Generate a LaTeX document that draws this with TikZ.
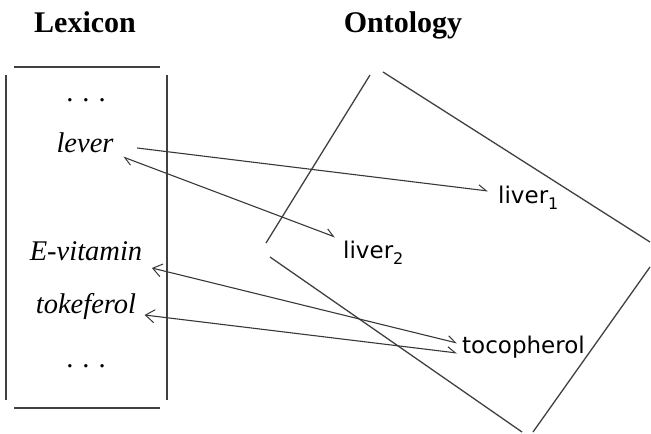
\documentclass[tikz,border=0pt]{standalone}
\usepackage{fontspec}
\usetikzlibrary{arrows.meta}
\newfontfamily\tnrfont{Liberation Serif}
\newfontfamily\ontfont{DejaVu Sans}
\newcommand{\mysub}[1]{\raisebox{-0.28em}{\fontsize{16}{16}\selectfont #1}}
\newcommand{\mydots}{.\hspace{9pt}.\hspace{9pt}.}
\begin{document}
\begin{tikzpicture}[x=1pt,y=-1pt,
  title/.style={inner sep=0pt,anchor=base,font=\tnrfont\bfseries\fontsize{30}{30}\selectfont},
  lex/.style={inner sep=0pt,anchor=base,font=\tnrfont\itshape\fontsize{28.5}{28.5}\selectfont},
  dotsnode/.style={inner sep=0pt,anchor=base,font=\tnrfont\fontsize{28.5}{28.5}\selectfont},
  ont/.style={inner sep=0pt,anchor=base west,font=\ontfont\fontsize{23}{23}\selectfont},
  frame/.style={draw=black!75,line width=1.3pt},
  link/.style={draw=black!78,line width=1.1pt},
  barb/.tip={Straight Barb[harpoon,length=8pt,width=10pt,line width=1pt]},
  vee/.tip={Straight Barb[length=9pt,width=13pt,line width=1pt]}]
\useasboundingbox (0,0) rectangle (651,434);
% titles
\node[title] (lexT) at (85,32) {Lexicon};
\node[title] (ontT) at (403,32) {Ontology};
% lexicon frame
\draw[frame] (14,67) -- (160,67);
\draw[frame] (6,75) -- (6,400);
\draw[frame] (167,75) -- (167,400);
\draw[frame] (14,408) -- (160,408);
% ontology frame
\draw[frame] (370,75) -- (266,243);
\draw[frame] (383,72) -- (650,242);
\draw[frame] (650,267) -- (533,432);
\draw[frame] (270,257) -- (522,432);
% lexicon entries
\node[dotsnode] (d1) at (86,101) {\mydots};
\node[lex] (lever) at (85,152) {lever};
\node[lex] (evit) at (86,260) {E-vitamin};
\node[lex] (toke) at (86,313) {tokeferol};
\node[dotsnode] (d2) at (86,367) {\mydots};
% ontology entries
\node[ont] (liv1) at (498,203) {liver\mysub{1}};
\node[ont] (liv2) at (343,258) {liver\mysub{2}};
\node[ont] (toco) at (462,353) {tocopherol};
% connectors
\draw[link,-barb] ([shift={(23.5,-4)}]lever.base east) -- ([shift={(-10,-12)}]liv1.base west);
\draw[link,barb-barb] ([shift={(9.5,5)}]lever.base east) -- ([shift={(-8,-21)}]liv2.base west);
\draw[link,vee-barb] ([shift={(9.5,8)}]evit.base east) -- ([shift={(-5,-10)}]toco.base west);
\draw[link,vee-barb] ([shift={(8.3,2)}]toke.base east) -- ([shift={(-5,0)}]toco.base west);
\end{tikzpicture}
\end{document}
